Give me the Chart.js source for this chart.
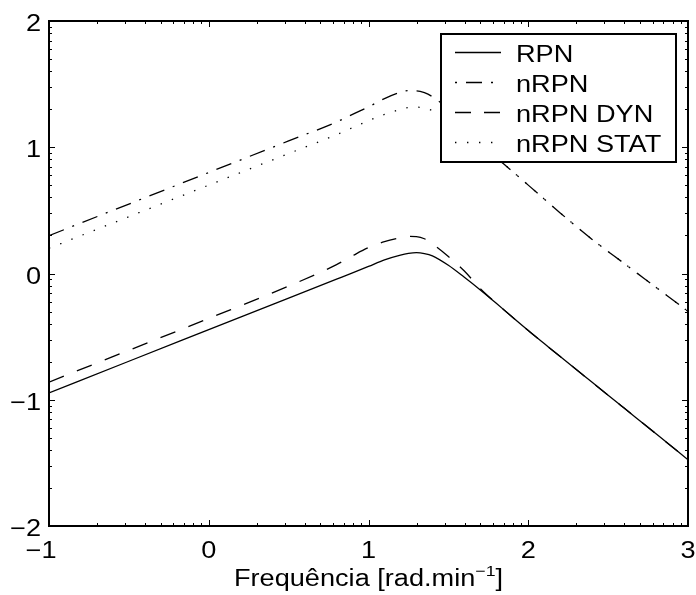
<!DOCTYPE html>
<html><head><meta charset="utf-8">
<script src="https://cdn.jsdelivr.net/npm/chart.js@4/dist/chart.umd.min.js"></script>
<style>html,body{margin:0;padding:0;background:#fff}canvas{display:block}</style>
</head><body>
<canvas id="c" width="696" height="595"></canvas>
<script>
// ---- data (log10 frequency vs log10 magnitude) ----
const xValues   = [-1, -0.5, 0, 0.5, 0.8, 0.9, 1.0, 1.1, 1.2, 1.25, 1.3, 1.35, 1.4, 1.5, 1.6, 1.7, 1.8, 1.9, 2.0, 2.1, 2.2, 2.4, 2.6, 2.8, 3.0];
const rpn       = [-0.946, -0.695, -0.445, -0.195, -0.045, 0.005, 0.056, 0.108, 0.146, 0.159, 0.165, 0.158, 0.14, 0.065, -0.03, -0.13, -0.236, -0.345, -0.452, -0.555, -0.658, -0.862, -1.066, -1.27, -1.475];
const nrpn      = [0.30, 0.55, 0.80, 1.05, 1.20, 1.26, 1.32, 1.385, 1.435, 1.448, 1.447, 1.432, 1.40, 1.30, 1.17, 1.04, 0.92, 0.81, 0.70, 0.59, 0.48, 0.27, 0.08, -0.11, -0.30];
const nrpnDyn   = [-0.86, -0.608, -0.356, -0.10, 0.07, 0.14, 0.205, 0.252, 0.283, 0.294, 0.292, 0.275, 0.235, 0.135, 0.02, -0.12, -0.236, -0.345, -0.452, -0.555, -0.658, -0.862, -1.066, -1.27, -1.475];
const nrpnStat  = [0.20, 0.45, 0.70, 0.95, 1.10, 1.155, 1.21, 1.26, 1.30, 1.315, 1.318, 1.31, 1.29, 1.22, 1.13, 1.03, 0.92, 0.81, 0.70, 0.59, 0.48, 0.27, 0.08, -0.11, -0.30];
const seriesNames = ['RPN', 'nRPN', 'nRPN DYN', 'nRPN STAT'];
const xTicks = [-1, 0, 1, 2, 3];
const yTicks = [-2, -1, 0, 1, 2];
const xTickLabels = ['\u22121', '0', '1', '2', '3'];
const yTickLabels = ['\u22122', '\u22121', '0', '1', '2'];
const minorMult = [2, 3, 4, 5, 6, 7, 8, 9];
const xTitle = ['Frequ\u00eancia [rad.min', '\u22121', ']'];

const dashes = [[], [16, 9, 2, 9], [16, 14], [1.4, 10.6]];
const FONT = "'Liberation Sans', Arial, Helvetica, sans-serif";
const SX = 1.18;

function pts(arr) { return xValues.map((x, i) => ({ x: x, y: arr[i] })); }

function sText(ctx, t, x, y, align) {
  ctx.save();
  ctx.translate(x, y);
  ctx.scale(SX, 1);
  ctx.textAlign = align || 'left';
  ctx.fillText(t, 0, 0);
  ctx.restore();
}

const decor = {
  id: 'decor',
  afterDraw(chart) {
    const ctx = chart.ctx, xs = chart.scales.x, ys = chart.scales.y, a = chart.chartArea;
    ctx.save();
    ctx.strokeStyle = '#000'; ctx.fillStyle = '#000';
    // ticks
    ctx.lineWidth = 1;
    ctx.beginPath();
    const tickX = (v, len) => {
      const p = Math.round(xs.getPixelForValue(v)) + 0.5;
      ctx.moveTo(p, a.bottom); ctx.lineTo(p, a.bottom - len);
      ctx.moveTo(p, a.top); ctx.lineTo(p, a.top + len);
    };
    const tickY = (v, len) => {
      const p = Math.round(ys.getPixelForValue(v)) + 0.5;
      ctx.moveTo(a.left, p); ctx.lineTo(a.left + len, p);
      ctx.moveTo(a.right, p); ctx.lineTo(a.right - len, p);
    };
    xTicks.forEach(v => tickX(v, 6));
    yTicks.forEach(v => tickY(v, 6));
    for (let d = xTicks[0]; d < xTicks[xTicks.length - 1]; d++) minorMult.forEach(m => tickX(d + Math.log10(m), 3));
    for (let d = yTicks[0]; d < yTicks[yTicks.length - 1]; d++) minorMult.forEach(m => tickY(d + Math.log10(m), 3));
    ctx.stroke();
    // frame
    ctx.lineWidth = 2;
    ctx.strokeRect(a.left, a.top, a.right - a.left, a.bottom - a.top);
    // tick labels
    ctx.font = '23px ' + FONT;
    ctx.textBaseline = 'alphabetic';
    xTicks.forEach((v, i) => {
      const p = xs.getPixelForValue(v);
      const t = xTickLabels[i];
      const digits = t.replace('\u2212', '');
      const dw = ctx.measureText(digits).width * SX;
      sText(ctx, t, p + dw / 2, a.bottom + 32, 'right');
    });
    yTicks.forEach((v, i) => {
      const p = ys.getPixelForValue(v);
      sText(ctx, yTickLabels[i], a.left - 8, p + 10, 'right');
    });
    // axis title with superscript
    ctx.font = '23px ' + FONT;
    const w0 = ctx.measureText(xTitle[0]).width * SX;
    const w2 = ctx.measureText(xTitle[2]).width * SX;
    ctx.font = '15px ' + FONT;
    const w1 = ctx.measureText(xTitle[1]).width * SX;
    const cx = (a.left + a.right) / 2;
    let sx = cx - (w0 + w1 + w2) / 2;
    const by = 586;
    ctx.font = '23px ' + FONT; sText(ctx, xTitle[0], sx, by, 'left'); sx += w0;
    ctx.font = '15px ' + FONT; sText(ctx, xTitle[1], sx, by - 10, 'left'); sx += w1;
    ctx.font = '23px ' + FONT; sText(ctx, xTitle[2], sx, by, 'left');
    // legend
    const L = 441, T = 34, R = 676, B = 162;
    ctx.fillStyle = '#fff';
    ctx.fillRect(L, T, R - L, B - T);
    ctx.lineWidth = 2;
    ctx.strokeRect(L, T, R - L, B - T);
    ctx.fillStyle = '#000';
    ctx.font = '23px ' + FONT;
    seriesNames.forEach((n, i) => {
      const y = 52.5 + i * 30;
      ctx.save();
      ctx.lineWidth = 1.3;
      ctx.setLineDash(i === 1 ? [2, 9, 16, 9, 2, 20] : i === 2 ? [16, 13, 16] : dashes[i]);
      ctx.beginPath(); ctx.moveTo(455, y); ctx.lineTo(501, y); ctx.stroke();
      ctx.restore();
      sText(ctx, n, 516, y + 9, 'left');
    });
    ctx.restore();
  }
};

const chart = new Chart(document.getElementById('c'), {
  type: 'line',
  data: {
    datasets: [rpn, nrpn, nrpnDyn, nrpnStat].map((arr, i) => ({
      label: seriesNames[i],
      data: pts(arr),
      borderColor: '#000',
      borderWidth: 1.3,
      borderDash: dashes[i],
      pointRadius: 0,
      fill: false,
      cubicInterpolationMode: 'monotone'
    }))
  },
  options: {
    responsive: false,
    animation: false,
    events: [],
    layout: { padding: { top: 21, right: 8, left: 0, bottom: 0 } },
    plugins: { legend: { display: false }, tooltip: { enabled: false } },
    scales: {
      x: {
        type: 'linear', min: -1, max: 3,
        ticks: { display: false, stepSize: 1 },
        grid: { display: false }, border: { display: false },
        afterFit(s) { s.height = 69; }
      },
      y: {
        type: 'linear', min: -2, max: 2,
        ticks: { display: false, stepSize: 1 },
        grid: { display: false }, border: { display: false },
        afterFit(s) { s.width = 49; }
      }
    }
  },
  plugins: [decor]
});
</script>
</body></html>
